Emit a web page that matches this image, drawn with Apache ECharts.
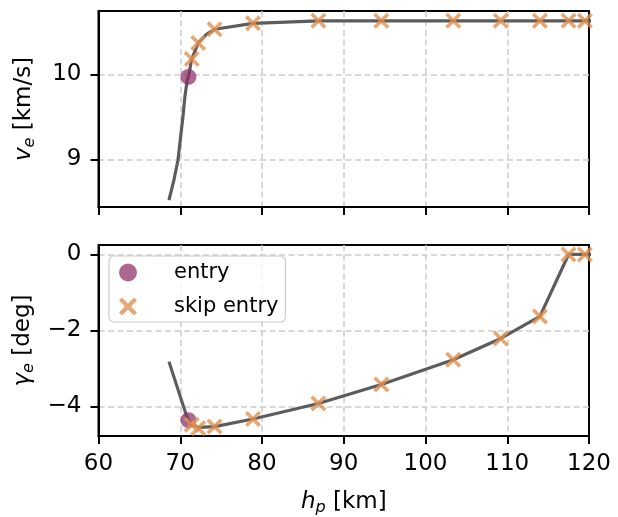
<!DOCTYPE html>
<html>
<head>
<meta charset="utf-8">
<script src="https://cdn.jsdelivr.net/npm/echarts@6/dist/echarts.min.js"></script>
<style>
html,body{margin:0;padding:0;background:#fff;}
#chart{width:618px;height:517px;}
</style>
</head>
<body>
<div id="chart"></div>
<script>
// ---- data ----
const xTicks = [60, 70, 80, 90, 100, 110, 120];
const vTicks = [9, 10];
const gTicks = [-4, -2, 0];

// trajectory line, top panel (h_p [km], v_e [km/s])
const lineTopH = [68.62, 69.23, 69.72, 70.05, 70.33, 70.57, 70.85, 71.0, 71.4, 72.2, 73.2, 74.2, 78.9, 86.9, 94.6, 103.4, 109.2, 114.0, 117.5, 119.5, 120.5];
const lineTopV = [8.52, 8.76, 8.99, 9.27, 9.50, 9.74, 9.93, 9.97, 10.18, 10.37, 10.47, 10.53, 10.60, 10.63, 10.63, 10.63, 10.63, 10.63, 10.63, 10.63, 10.63];

// trajectory line, bottom panel (h_p [km], gamma_e [deg])
const lineBotH = [68.62, 70.85, 71.0, 71.4, 72.2, 74.2, 78.9, 86.9, 94.6, 103.4, 109.2, 114.0, 117.5, 119.5, 120.5];
const lineBotG = [-2.82, -4.30, -4.36, -4.47, -4.55, -4.53, -4.33, -3.92, -3.42, -2.77, -2.21, -1.63, 0, 0, 0];

// entry point
const entryH = [71.0];
const entryV = [9.97];
const entryG = [-4.36];

// skip entry points
const skipH = [71.4, 72.2, 74.2, 78.9, 86.9, 94.6, 103.4, 109.2, 114.0, 117.5, 119.5];
const skipV = [10.18, 10.37, 10.53, 10.60, 10.63, 10.63, 10.63, 10.63, 10.63, 10.63, 10.63];
const skipG = [-4.48, -4.57, -4.53, -4.33, -3.92, -3.42, -2.77, -2.21, -1.63, 0, 0];

// ---- chart ----
const zip = (a, b) => a.map((v, i) => [v, b[i]]);
const FONT = 'DejaVu Sans';
const FS = 23;
const FSUB = 16;
const XPATH = 'path://M0,1.6 L1.6,0 L5,3.4 L8.4,0 L10,1.6 L6.6,5 L10,8.4 L8.4,10 L5,6.6 L1.6,10 L0,8.4 L3.4,5 Z';
const C_LINE = '#5c5c5c';
const C_ENTRY = 'rgba(140,45,102,0.9)';
const C_SKIP = '#e2914f';

const grids = [
  {left: 98.5, width: 490.5, top: 11, height: 196, show: true, borderColor: '#000', borderWidth: 2, backgroundColor: 'transparent'},
  {left: 98.5, width: 490.5, top: 245, height: 196, show: true, borderColor: '#000', borderWidth: 2, backgroundColor: 'transparent'}
];

const gridLineStyle = {color: '#cccccc', width: 1.5, type: [6, 3.5]};
const splitLineX = {show: true, showMinLine: false, showMaxLine: false, lineStyle: gridLineStyle};
const splitLineY = {show: true, showMinLine: true, showMaxLine: true, lineStyle: gridLineStyle};
const axisLine = {show: true, onZero: false, lineStyle: {color: '#000', width: 2}};
const axisTick = {show: true, length: 8, lineStyle: {color: '#000', width: 2}};
const labelStyle = {fontFamily: FONT, fontSize: FS, color: '#000'};
const richName = {
  i: {fontFamily: FONT, fontSize: FS, fontStyle: 'italic', color: '#000', lineHeight: 27},
  s: {fontFamily: FONT, fontSize: FSUB, fontStyle: 'italic', color: '#000', verticalAlign: 'bottom', lineHeight: 11}
};

function xAx(gi, showLabel) {
  const ax = {
    type: 'value', gridIndex: gi, min: 60, max: 120, interval: 10,
    axisLine, axisTick: Object.assign({}, axisTick, {customValues: xTicks}), splitLine: splitLineX,
    axisLabel: Object.assign({show: showLabel, margin: 17, customValues: xTicks}, labelStyle)
  };
  if (showLabel) {
    ax.name = '{i|h}{s|p} [km]';
    ax.nameLocation = 'middle';
    ax.nameGap = 53;
    ax.nameTextStyle = {fontFamily: FONT, fontSize: FS, color: '#000', rich: richName};
  }
  return ax;
}

function yAx(gi, min, max, ticks, nm, sym) {
  return {
    type: 'value', gridIndex: gi, min, max,
    axisLine, axisTick: Object.assign({}, axisTick, {customValues: ticks}), splitLine: splitLineY,
    axisLabel: Object.assign({margin: 17, customValues: ticks, formatter: v => (v < 0 ? '\u2212' + Math.abs(v) : String(v))}, labelStyle),
    name: '{i|' + sym + '}{s|e} ' + nm,
    nameLocation: 'middle', nameGap: 61,
    nameTextStyle: {fontFamily: FONT, fontSize: FS, color: '#000', rich: richName}
  };
}

const option = {
  animation: false,
  backgroundColor: '#fff',
  textStyle: {fontFamily: FONT},
  grid: grids,
  xAxis: [xAx(0, false), xAx(1, true)],
  yAxis: [
    yAx(0, 8.44, 10.745, vTicks, '[km/s]', 'v'),
    yAx(1, -4.777, 0.249, gTicks, '[deg]', '\u03b3')
  ],
  legend: {
    data: ['entry', 'skip entry'],
    orient: 'vertical',
    left: 109, top: 256,
    itemWidth: 36, itemHeight: 18, itemGap: 13,
    padding: [6, 7, 5, 10],
    backgroundColor: 'rgba(255,255,255,0.8)',
    borderColor: '#cccccc', borderWidth: 1.2, borderRadius: 5,
    textStyle: {fontFamily: FONT, fontSize: 21, color: '#000', padding: [0, 0, 0, 23]}
  },
  series: [
    {type: 'line', xAxisIndex: 0, yAxisIndex: 0, data: zip(lineTopH, lineTopV), showSymbol: false, symbol: 'none',
     lineStyle: {color: C_LINE, width: 3.2}, clip: true, z: 2, silent: true},
    {type: 'line', xAxisIndex: 1, yAxisIndex: 1, data: zip(lineBotH, lineBotG), showSymbol: false, symbol: 'none',
     lineStyle: {color: C_LINE, width: 3.2}, clip: true, z: 2, silent: true},
    {name: 'entry', type: 'scatter', xAxisIndex: 0, yAxisIndex: 0, data: zip(entryH, entryV),
     symbol: 'circle', symbolSize: 16, itemStyle: {color: C_ENTRY}, z: 3},
    {name: 'entry', type: 'scatter', xAxisIndex: 1, yAxisIndex: 1, data: zip(entryH, entryG),
     symbol: 'circle', symbolSize: 16, itemStyle: {color: C_ENTRY}, z: 3},
    {name: 'skip entry', type: 'scatter', xAxisIndex: 0, yAxisIndex: 0, data: zip(skipH, skipV),
     symbol: XPATH, symbolSize: 16, itemStyle: {color: C_SKIP}, z: 4},
    {name: 'skip entry', type: 'scatter', xAxisIndex: 1, yAxisIndex: 1, data: zip(skipH, skipG),
     symbol: XPATH, symbolSize: 16, itemStyle: {color: C_SKIP}, z: 4}
  ]
};

const chart = echarts.init(document.getElementById('chart'), null, {renderer: 'canvas'});
chart.setOption(option);
</script>
</body>
</html>
